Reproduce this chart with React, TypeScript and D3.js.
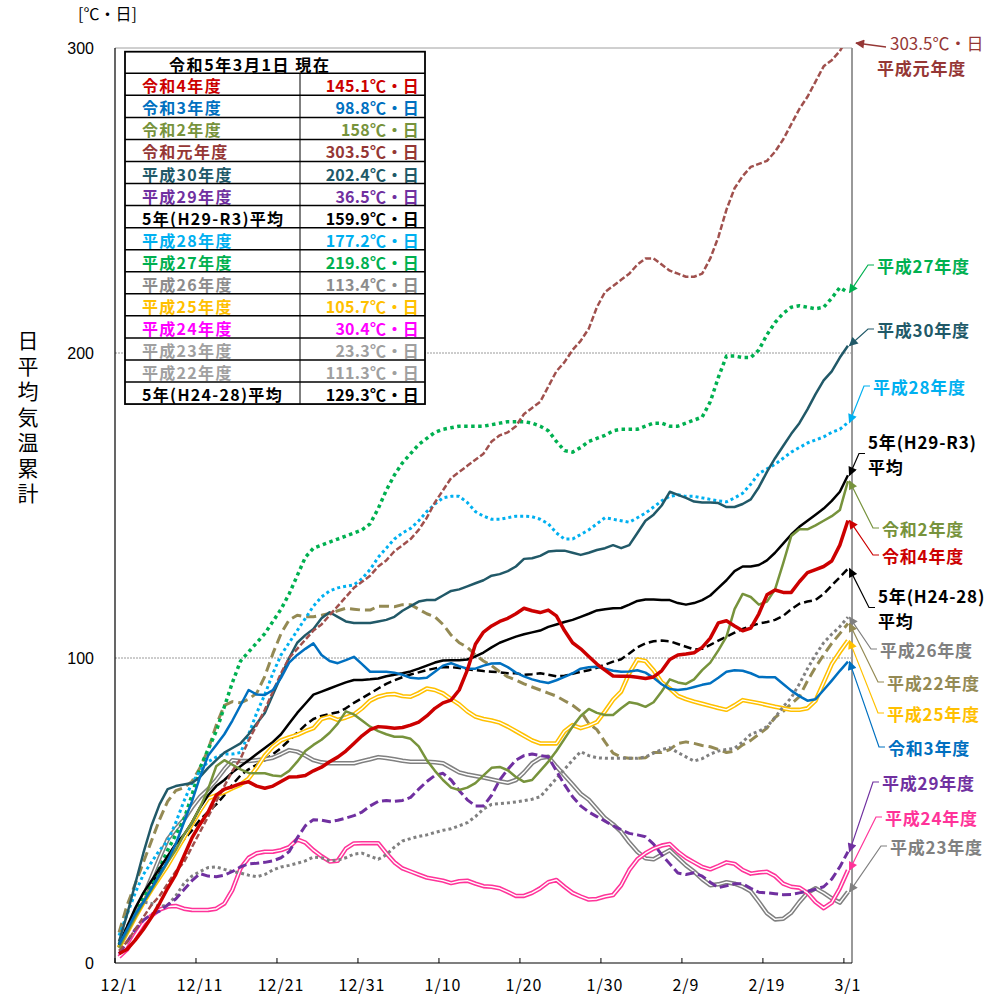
import React from 'react';
import * as d3 from 'd3';

// ---- categories ----
const dateLabels = ['12/1', '12/11', '12/21', '12/31', '1/10', '1/20', '1/30', '2/9', '2/19', '3/1'];
const labelDays = [0, 10, 20, 30, 40, 50, 60, 70, 80, 90];
const yTicks = [0, 100, 200, 300];

// ---- series values (day 0 = 12/1 ... day 90 = 3/1) ----
const R4 = [3,4.5,7.5,11,15,19.5,24.5,29,35,41,
45.5,49.5,55,57,57.8,58.8,59.4,58,57.3,58,
59.5,61,61.1,61.5,63,64.2,66,67.5,69.5,72,
74.5,76.5,77.5,77.3,77,77.2,78,79,81,83.5,
85.3,86.2,89.5,96,104.5,108.5,110.5,112,113,114.5,
116.3,115.5,114.9,115.7,113.8,109,105,103,100.5,98,
96,94.1,94,94,93.7,93.3,93.8,95.8,99.5,101,
101.3,101.7,103.5,106.5,111.5,112.2,110.5,108.9,109.8,114.5,
120.7,122.3,121.5,121.5,125,128,129,130,131.8,137,
145.1];
const R3 = [6,11,16,20,24.5,29,33.5,39,46,53,
61,68,71.5,75,79.5,84.5,89.5,88,87.9,89.5,
93.5,98.5,101,103,104.8,101,99,98.3,99.3,100.4,
98,95.5,95.5,95.5,95.2,94.5,93.5,93.3,93.5,95.5,
97.5,98.3,97.3,96.5,96.5,97.5,98.2,98.3,97,95.2,
94,93,92.3,91.8,92.7,93.8,95,96.5,97,97.1,
96.5,95.8,95.5,95.6,96,95.2,93.5,91.4,89.8,89.5,
89.8,90.5,91.2,91.7,93.5,95.5,96,95.8,95,93.8,
93.7,93.7,91.5,89.3,87.5,86,86.5,89.5,92.6,95.8,
98.8];
const R2 = [5,10,15,19.7,24,28.5,33,37,42,46,
51,57,64.5,66.5,65,63.5,62.3,62.2,62.2,61.5,
61.2,63,66,69.5,71.5,73.2,75.5,78.5,82.5,81.5,
79.5,77.5,76,75,74.2,74.2,73.5,71,66.5,63,
60,57.5,56.7,57.5,59,61.5,64,64.3,63.2,61,
59.4,60,63,66,69.5,73.5,77.5,81,83.3,82,
81.3,81.3,83.5,85.5,85,84,85.5,89,93,92,
91.5,93,96,98.5,102.5,107,116,121,120,117.5,
118.5,122.5,131,140,142.2,142.2,143.5,145,146.5,148.5,
158];
const R1 = [4,7,11,15,19,22,26,30,33,38,
43,48,53,58,63,67,73,78,83,89,
95,100,103,106,109,111,114,117,120,123,
125,127,130,132,135,137,139,142,146,151,
155,159,161,163,165,167,171,173,174,176,
180,182,184,189,194,197,201,204,208,215,
220,222,224,226,229,231,231,229,227,226,
225,225,226,231,238,247,254,258,261,262,
263,266,270,275,280,284,289,294,296,299,
303.5];
const H30 = [7,16,26,36,45,52,57,58,58.5,59,
61,64,66.5,69,70.5,72,75,78.5,82,88,
94,100,105,107.5,109.5,113,115,113.5,112,111.5,
111.5,111.5,112,112.5,113.5,115.5,117,118.5,119,119,
120.5,122,122.5,123.5,124.5,125.5,127,127.5,128.5,130,
132.5,132.7,133.5,134.9,135.2,135.2,134.5,133.8,134.5,135.4,
136,137,136,137,141,145,147,150,154.5,153.5,
152.5,151.3,151,151,150.8,149.5,149.5,150.5,152,156,
161,165.5,169.5,173.5,177,181.5,186.5,191,194,198.5,
202.4];
const H29 = [3,7,11,14,16,17,19,21,24,27,
29.3,28.5,28.3,28.8,30,31.5,32.5,32.7,33,33.5,
34.5,36.5,41,45,47,46.8,46.3,46.8,47.5,48.3,
49.5,51.5,53,53.3,53,53.3,54.3,57,59.5,61.5,
62.2,60,56.5,53.5,51.5,51.5,55,60,63.5,66.5,
68,68.5,68,67.6,63,58.5,54.5,51.5,49.5,48,
46.5,45,43.7,42.5,42,41.4,39,35.5,32.5,29.5,
29,29.6,28.5,26.5,24.7,25.3,26,26,24.5,23.2,
23,22.7,22.4,22.5,23,23.5,24.2,25,27.5,31.5,
36.5];
const AvgA = [6,12,18,23,27,31,35,39,42,46,
51,55,58,60,62.5,64.5,66.5,68.5,70.5,72.5,
75,78.5,82,85,88,89,90,91,92,92.8,
92.8,93,93.3,94,94.5,95,95.6,96.5,97.5,98.5,
99.2,99.3,99.3,99.5,100.5,101.8,103.5,105,106,107,
107.8,108.4,109,110.2,111,111.8,112.5,113.5,114.5,115.6,
116,116.3,116.4,117.5,118.7,119.2,119.2,119,119,118,
117.5,118,119,120.5,123,125.5,128.5,130,130,130.5,
132,134.5,137.5,140.5,143,145,147,149,151.5,154.5,
159.9];
const H28 = [9,16,23,29,33,37,40,46,53,59,
63,66,67.5,68.5,68.5,69,75,82,88,95,
101,105,109,113,117,120,122,123,123.5,124,
126,129,133,136,139,141,142.5,145,148,150.5,
152.5,153,153,151,148,146.5,145.5,145.5,146,146.5,
146.5,146.3,145.5,144,141,139,139,140.5,142,144,
146,145.5,145,144.5,146,147.5,149.5,151.5,153,153.5,
153,153,152.5,152,151.5,151.2,152.5,154,157,160.5,
162,163.5,165.5,167.5,169,170.5,171.5,172.5,174,175,
177.2];
const H27 = [6,11,16,21,26,31,37,42,47,55,
64,70,76,84,92,99,102,105,108,112,
116,121,127,133,136,137,138,139,140,141,
142,144,149,155,160,164,167,170,172,174,
175,175.5,176,176,176,176,176.5,177,177.5,177.5,
177.5,177,176,174.5,171,168,167.5,169,171,172,
173,174.5,175,175,175,176,177,177,176,176,
177,178,179,184,192,199,199,198.5,198.5,201,
206,210,213,215,215.5,215,214.5,215,218,221.5,
219.8];
const H26 = [7,12,17,20,19.5,18.5,19,22,26,28.5,
30,31.3,31.5,30.7,30,29.5,28.8,28.3,29,30.5,
31.5,32,32.7,33.5,34.7,34.5,33.5,33.7,34.5,35.7,
36,35,34,35.5,38,40,40.8,41.5,42,42.8,
43.5,44,45,46,48,50.5,52,52.3,52.5,52.8,
53.2,53.7,54.5,57.5,60.5,63.5,66.5,69.3,68,67.3,
67.1,67.1,67.1,67.1,67.1,67.6,68.8,70,70.6,69,
67.6,66.2,67,68.5,69.5,70,70.4,72.5,75,76,
77.5,80.5,84,87,91.5,96.5,101,105,107.8,110.3,
113.4];
const H25 = [5,10,15,19.7,24,28,32,36.5,41,45.5,
50,54,55,56,57.3,58.5,60.5,64,68,71,
73,74,74.8,76,77,80,80.8,79.7,80.5,81.5,
83.5,86,87.3,88,88.2,87.5,87.3,88.5,90,89.5,
88.4,86.5,84.8,82.5,80.8,80,79.5,78.8,77.5,76,
74.5,73,72,72,72,76,78,77,77.8,79,
82.5,86.3,89,95,99.5,99,96,92,90,87.6,
86.5,85.7,85,84.3,83.6,83,84.5,86.2,85.7,85.2,
84.6,84,83.5,83,83,83.5,86,92,98,102,
105.7];
const H24 = [2,4.5,9,13,15.5,17.5,18.5,18.7,17.8,17.4,
17.4,17.4,17.8,19.5,24,31,34.5,36,36.5,36.5,
37,38,40.5,39.5,37,35,33.3,33.5,37.5,39.2,
39.3,39.3,39.3,36,33,31,30,29,28,27.5,
27,26.2,26.8,27,26,25.2,25,24.5,23.3,22,
22,23,24.5,26.5,27.2,25,23,21.8,20.8,21,
21.8,22.3,25.5,30.5,34,36,37.5,38.5,39,36.5,
34.5,33,31.5,30.7,31.8,33,32.5,30.5,29.3,29.7,
29.9,28.5,26,25,24.7,23,20,18,19.8,24.5,
30.4];
const H23 = [5,11,16.5,21.7,28,34.5,40.5,44,47,51,
54.5,57,60,63.5,66.5,66.2,66.2,66.5,66.8,67.3,
68.5,69.8,69.3,68,66.5,65.8,65.5,65.5,65.5,65.5,
66.2,66.8,67.5,67.2,66.8,66.3,66,66,66,65.8,
65.5,64,62.5,61.8,61.3,60.8,60.2,59.6,59.1,60,
62.5,65.5,67.2,67.6,64.4,61.5,58.5,55.5,53.5,50.5,
47.5,45.5,43,39.5,36.5,34.3,34,35.5,37,34.5,
32,30,27.5,25.5,25.8,26.5,26,25,23.5,20,
16.3,14.3,14.5,16.5,20,23,24.5,23,21.2,19.8,
23.3];
const H22 = [10,19,26,33,40,47,53,56.5,57.5,59.5,
64,70,78,84.5,85.7,85.3,86.5,88.5,94,101.5,
108,112.5,114,113.5,113.5,114,114.6,115.5,116.3,116,
115.7,115.7,117,117,116.8,117.5,117.5,116,114.5,113.5,
111,107.5,105,103.5,101,99,97.5,95.5,93.8,92.8,
91.5,90.5,89.5,88.5,87.5,86,84.5,82.5,78.5,76.5,
72.5,68.8,67.5,67.1,67.1,67.3,69,69,70,72,
72.5,72,71.3,70.9,70,69,69.5,71.5,73,75,
77,80.5,82.5,85,87.3,92.5,97,101,104.8,108,
111.3];
const AvgB = [5,11,17,22,26,29.5,33.5,37,40.5,43.5,
47,49.5,52,55,58.5,61.5,63.5,65,66.5,68.5,
70.5,73,75.5,78,80,81,81.7,82.2,83.5,85.3,
86.8,88.4,90,91.5,92.7,93.7,94.6,95.3,96,96.6,
97,97,96.7,96.3,96,95.7,95.5,95.3,95,95,
94.5,94.7,95,94.5,94,94.2,94.8,95.5,96,96.8,
97.8,98.8,99.6,101.5,103.5,104.8,105.5,105.7,105.5,104.6,
103.7,102.8,103,104.3,105.7,107,108.3,109.5,110.5,111.3,
111.8,112.5,113.8,116,117.8,118.5,119,121,123.8,126.5,
129.3];

// ---- table ----
const tableHeader = '令和5年3月1日 現在';
const tableNames = ['令和4年度', '令和3年度', '令和2年度', '令和元年度', '平成30年度', '平成29年度', '5年(H29-R3)平均', '平成28年度', '平成27年度', '平成26年度', '平成25年度', '平成24年度', '平成23年度', '平成22年度', '5年(H24-28)平均'];
const tableValues = ['145.1', '98.8', '158', '303.5', '202.4', '36.5', '159.9', '177.2', '219.8', '113.4', '105.7', '30.4', '23.3', '111.3', '129.3'];
const tableColors = ['#CC0000', '#0070C0', '#77933C', '#953735', '#215968', '#7030A0', '#000000', '#00B0F0', '#00B050', '#8C8C8C', '#FFC000', '#FF00FF', '#A0A0A0', '#A0A0A0', '#000000'];

type S = { key: string; data: number[]; color: string; width: number; dash?: string; double?: boolean };
const series: S[] = [
  { key: 'R4', data: R4, color: '#CC0000', width: 3.5 },
  { key: 'R3', data: R3, color: '#0070C0', width: 2.5 },
  { key: 'R2', data: R2, color: '#77933C', width: 2.5 },
  { key: 'R1', data: R1, color: '#A0504D', width: 2.5, dash: '6 2.5' },
  { key: 'H30', data: H30, color: '#215968', width: 2.5 },
  { key: 'H29', data: H29, color: '#7030A0', width: 3, dash: '9 4' },
  { key: 'AvgA', data: AvgA, color: '#000000', width: 2.5 },
  { key: 'H28', data: H28, color: '#00B0F0', width: 3, dash: '3 3' },
  { key: 'H27', data: H27, color: '#00B050', width: 3.5, dash: '3.5 3.5' },
  { key: 'H26', data: H26, color: '#808080', width: 3, dash: '3 3' },
  { key: 'H25', data: H25, color: '#FFC000', width: 4.5, double: true },
  { key: 'H24', data: H24, color: '#FF3399', width: 4.5, double: true },
  { key: 'H23', data: H23, color: '#808080', width: 4.5, double: true },
  { key: 'H22', data: H22, color: '#948A54', width: 3, dash: '10 5' },
  { key: 'AvgB', data: AvgB, color: '#000000', width: 2.5, dash: '8 4' },
];

type A = { key: string; lines: string[]; color: string; lx: number; cy: number };
const annotations: A[] = [
  { key: 'H27', lines: ['平成27年度'], color: '#00B050', lx: 877, cy: 265 },
  { key: 'H30', lines: ['平成30年度'], color: '#215968', lx: 877, cy: 329 },
  { key: 'H28', lines: ['平成28年度'], color: '#00B0F0', lx: 873, cy: 386 },
  { key: 'AvgA', lines: ['5年(H29-R3)', '平均'], color: '#000000', lx: 868, cy: 441 },
  { key: 'R2', lines: ['令和2年度'], color: '#77933C', lx: 882, cy: 528 },
  { key: 'R4', lines: ['令和4年度'], color: '#CC0000', lx: 882, cy: 555 },
  { key: 'AvgB', lines: ['5年(H24-28)', '平均'], color: '#000000', lx: 878, cy: 595 },
  { key: 'H26', lines: ['平成26年度'], color: '#808080', lx: 880, cy: 649 },
  { key: 'H22', lines: ['平成22年度'], color: '#948A54', lx: 887, cy: 682 },
  { key: 'H25', lines: ['平成25年度'], color: '#FFC000', lx: 887, cy: 713 },
  { key: 'R3', lines: ['令和3年度'], color: '#0070C0', lx: 888, cy: 747 },
  { key: 'H29', lines: ['平成29年度'], color: '#7030A0', lx: 882, cy: 782 },
  { key: 'H24', lines: ['平成24年度'], color: '#FF3399', lx: 885, cy: 817 },
  { key: 'H23', lines: ['平成23年度'], color: '#808080', lx: 890, cy: 846 },
];

const JP = "'Noto Sans CJK JP', 'Noto Sans', sans-serif";

export default function App() {
  const W = 1004, H = 998;
  const left = 115, right = 852, top = 48, bottom = 963;
  const x = d3.scaleLinear().domain([-0.5, 90.5]).range([left, right]);
  const y = d3.scaleLinear().domain([0, 300]).range([bottom, top]);
  const line = d3.line<number>().x((_, i) => x(i)).y(d => y(d));
  const byKey: Record<string, S> = {};
  series.forEach(s => { byKey[s.key] = s; });
  const drawOrder = [...series].reverse();
  const tickDays = d3.range(-0.5, 90, 10);

  // table geometry
  const tL = 125, tR = 425, tMid = 300, tTop = 51.7, hdrH = 21.6, rowH = 22.05;

  return (
    <svg width={W} height={H} style={{ position: 'absolute', left: 0, top: 0, background: '#fff' }} fontFamily={JP}>
      <defs>
        <clipPath id="plotClip"><rect x={left} y={top} width={right - left} height={bottom - top} /></clipPath>
        {annotations.concat([{ key: 'R1', lines: [], color: '#953735', lx: 0, cy: 0 }]).map(a => (
          <marker key={a.key} id={`arr-${a.key}`} viewBox="0 0 10 10" refX="9" refY="5" markerWidth="10" markerHeight="9" markerUnits="userSpaceOnUse" orient="auto">
            <path d="M0,0 L10,5 L0,10 z" fill={a.color} />
          </marker>
        ))}
      </defs>
      <rect x={0} y={0} width={W} height={H} fill="#fff" />

      {/* gridlines */}
      {yTicks.filter(v => v > 0 && v < 300).map(v => (
        <line key={v} x1={left} x2={right} y1={y(v)} y2={y(v)} stroke="#9a9a9a" strokeWidth={1} strokeDasharray="2 1" />
      ))}
      {/* plot frame */}
      <line x1={left} x2={right} y1={top} y2={top} stroke="#a0a0a0" strokeWidth={1} />
      <line x1={right} x2={right} y1={top} y2={bottom} stroke="#999" strokeWidth={2} />

      {/* series */}
      <g clipPath="url(#plotClip)">
        {drawOrder.map(s => {
          const d = line(s.data) || '';
          if (s.double) {
            return (
              <g key={s.key}>
                <path d={d} fill="none" stroke={s.color} strokeWidth={s.width} strokeLinejoin="round" />
                <path d={d} fill="none" stroke="#fff" strokeWidth={1.4} strokeLinejoin="round" />
              </g>
            );
          }
          return (
            <path key={s.key} d={d} fill="none" stroke={s.color} strokeWidth={s.width}
              strokeDasharray={s.dash} strokeLinejoin="round" />
          );
        })}
      </g>

      {/* axes */}
      <line x1={left} x2={left} y1={top} y2={bottom} stroke="#000" strokeWidth={1.2} />
      <line x1={left} x2={right} y1={bottom} y2={bottom} stroke="#000" strokeWidth={1.2} />
      {tickDays.map(t => (
        <line key={t} x1={x(t)} x2={x(t)} y1={bottom} y2={bottom - 5} stroke="#000" strokeWidth={1} />
      ))}
      {labelDays.map((d, i) => (
        <text key={d} x={x(d)} y={991} textAnchor="middle" fontSize={16} letterSpacing={1} fill="#000">{dateLabels[i]}</text>
      ))}
      {yTicks.map(v => (
        <text key={v} x={94} y={y(v) + 6} textAnchor="end" fontSize={16} fontFamily="'Liberation Sans', Arial, sans-serif" fill="#000">{v}</text>
      ))}
      <text x={78} y={20} fontSize={16} fill="#000">[℃・日]</text>
      <text x={28} y={330} fontSize={21} letterSpacing={4.5} fill="#000" style={{ writingMode: 'vertical-rl' }}>日平均気温累計</text>

      {/* table */}
      <g>
        <rect x={tL} y={tTop} width={tR - tL} height={hdrH + rowH * tableNames.length} fill="#fff" stroke="#000" strokeWidth={1.8} />
        <text x={169} y={tTop + hdrH / 2 + 1} dominantBaseline="central" fontSize={16} letterSpacing={1.6} fontWeight="bold" fill="#000">{tableHeader}</text>
        {tableNames.map((n, i) => {
          const ry = tTop + hdrH + rowH * i;
          return (
            <g key={n}>
              <line x1={tL} x2={tR} y1={ry} y2={ry} stroke="#000" strokeWidth={1.5} />
              <line x1={tMid} x2={tMid} y1={ry} y2={ry + rowH} stroke="#000" strokeWidth={1} />
              <text x={142} y={ry + rowH / 2 + 1} dominantBaseline="central" fontSize={16} letterSpacing={1.3} fontWeight="bold" fill={tableColors[i]}>{n}</text>
              <text x={419} y={ry + rowH / 2 + 1} dominantBaseline="central" textAnchor="end" fontSize={16} letterSpacing={0.3} fontWeight="bold" fill={tableColors[i]}>{`${tableValues[i]}℃・日`}</text>
            </g>
          );
        })}
      </g>

      {/* annotations */}
      <line x1={886} y1={47} x2={x(90.5) + 4} y2={y(300) - 5} stroke="#953735" strokeWidth={1.3} markerEnd="url(#arr-R1)" />
      <text x={890} y={42} dominantBaseline="central" fontSize={17} fill="#953735">303.5℃・日</text>
      <text x={877} y={67} dominantBaseline="central" fontSize={17} letterSpacing={0.8} fontWeight="bold" fill="#953735">平成元年度</text>
      {annotations.map(a => {
        const s = byKey[a.key];
        const last = s.data[s.data.length - 1];
        const tipX = x(90) + 1.5, tipY = y(last);
        const ly = a.lines.length > 1 ? a.cy + 12.5 : a.cy;
        const ex = a.lx - 9;
        return (
          <g key={a.key}>
            <polyline points={`${a.lx - 3},${ly} ${ex},${ly} ${tipX},${tipY}`} fill="none" stroke={a.color} strokeWidth={1.2} markerEnd={`url(#arr-${a.key})`} />
            {a.lines.map((t, i) => (
              <text key={i} x={a.lx} y={a.cy + i * 25} dominantBaseline="central" fontSize={17} letterSpacing={0.8} fontWeight="bold" fill={a.color}>{t}</text>
            ))}
          </g>
        );
      })}
    </svg>
  );
}
